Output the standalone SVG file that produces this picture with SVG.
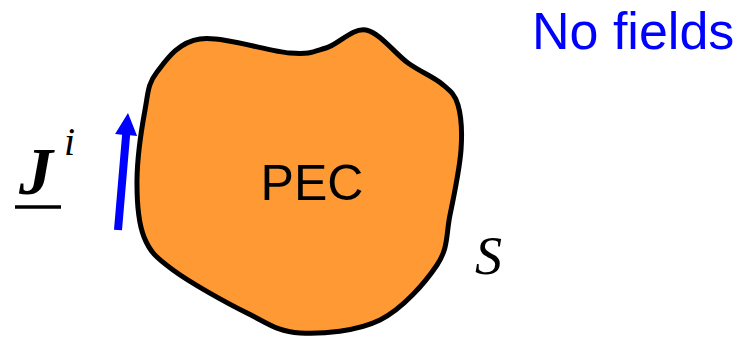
<svg xmlns="http://www.w3.org/2000/svg" width="740" height="339" viewBox="0 0 740 339">
<style>
.blob{fill:#FF9933;stroke:#000;stroke-width:5;stroke-linejoin:round}
.sans{font-family:"Liberation Sans",Arial,sans-serif}
.serif{font-family:"Liberation Serif","Times New Roman",serif;font-style:italic}
</style>
<rect width="740" height="339" fill="#fff"/>
<g id="pec">
<path class="blob" d="M157,72 C166.2,60.2 177.8,42.2 200,39 C222.2,35.8 269,51.5 290,53 C311,54.5 313.3,51.8 326,48 C338.7,44.2 352.3,27.5 366,30 C379.7,32.5 395.3,54 408,63 C420.7,72 433.7,77 442,84 C450.3,91 454.8,94 458,105 C461.2,116 462.3,131.7 461,150 C459.7,168.3 454,195.8 450,215 C446,234.2 448.7,247.5 437,265 C425.3,282.5 402.8,308.7 380,320 C357.2,331.3 322.2,334.2 300,333 C277.8,331.8 268.2,323.5 247,313 C225.8,302.5 190.2,282.7 173,270 C155.8,257.3 150,252 144,237 C138,222 136.8,201.2 137,180 C137.2,158.8 141.7,128 145,110 C148.3,92 147.8,83.8 157,72 Z"/>
<text class="sans" x="312" y="200" font-size="50" text-anchor="middle" fill="#000">PEC</text>
</g>
<g id="current">
<polygon points="114,229.7 122,230.3 130.1,135.3 137.1,135.9 128,113 115.1,134.1 122.1,134.7" fill="#0000FF"/>
<text class="serif" x="19" y="194" font-size="68" font-weight="bold" fill="#000">J</text>
<line x1="15" y1="207" x2="61" y2="207" stroke="#000" stroke-width="3.3"/>
<text class="serif" x="64" y="155" font-size="40" fill="#000">i</text>
</g>
<g id="labels">
<text class="serif" x="475" y="274" font-size="54" fill="#000">S</text>
<text class="sans" x="532" y="49" font-size="52" fill="#0000FF">No fields</text>
</g>
<g id="connectors"/>
</svg>
